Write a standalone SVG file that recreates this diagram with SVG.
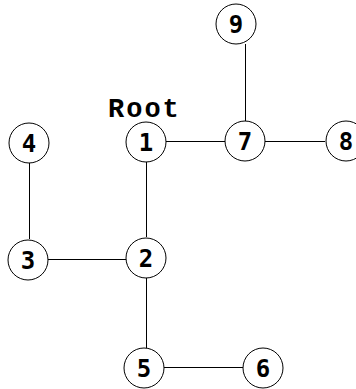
<svg xmlns="http://www.w3.org/2000/svg" width="356" height="389" viewBox="0 0 356 389">
<style>
.n{fill:#fff;stroke:#000;stroke-width:1}
.t{font-family:"DejaVu Sans Mono","Liberation Mono",monospace;font-weight:bold;font-size:24px;text-anchor:middle;dominant-baseline:central;fill:#000}
.e{stroke:#000;stroke-width:1;fill:none}
.lbl{font-family:"Liberation Mono","DejaVu Sans Mono",monospace;font-weight:bold;font-size:27px;letter-spacing:2px;fill:#000}
</style>
<rect width="356" height="389" fill="#fff"/>
<g id="edges">
<line class="e" x1="166" y1="141.5" x2="225" y2="141.5"/>
<line class="e" x1="146.5" y1="162" x2="146.5" y2="237"/>
<line class="e" x1="48" y1="259.5" x2="126" y2="259.5"/>
<line class="e" x1="29.5" y1="163" x2="29.5" y2="239"/>
<line class="e" x1="146.5" y1="278" x2="146.5" y2="348"/>
<line class="e" x1="164" y1="367.5" x2="243" y2="367.5"/>
<line class="e" x1="265" y1="141.5" x2="325" y2="141.5"/>
<line class="e" x1="245.5" y1="44" x2="245.5" y2="121"/>
</g>
<text class="lbl" x="108" y="117">Root</text>
<g id="n1"><circle class="n" cx="146" cy="142" r="20"/><text class="t" x="146" y="143">1</text></g>
<g id="n2"><circle class="n" cx="146" cy="258" r="20"/><text class="t" x="146" y="259">2</text></g>
<g id="n3"><circle class="n" cx="28" cy="260" r="20"/><text class="t" x="28" y="261">3</text></g>
<g id="n4"><circle class="n" cx="29" cy="143" r="20"/><text class="t" x="29" y="144">4</text></g>
<g id="n5"><circle class="n" cx="144" cy="368" r="20"/><text class="t" x="144" y="369">5</text></g>
<g id="n6"><circle class="n" cx="263" cy="368" r="20"/><text class="t" x="263" y="369">6</text></g>
<g id="n7"><circle class="n" cx="245" cy="141" r="20"/><text class="t" x="245" y="142">7</text></g>
<g id="n8"><circle class="n" cx="346" cy="141" r="20"/><text class="t" x="346" y="142">8</text></g>
<g id="n9"><circle class="n" cx="236" cy="24" r="20"/><text class="t" x="236" y="25">9</text></g>
</svg>
